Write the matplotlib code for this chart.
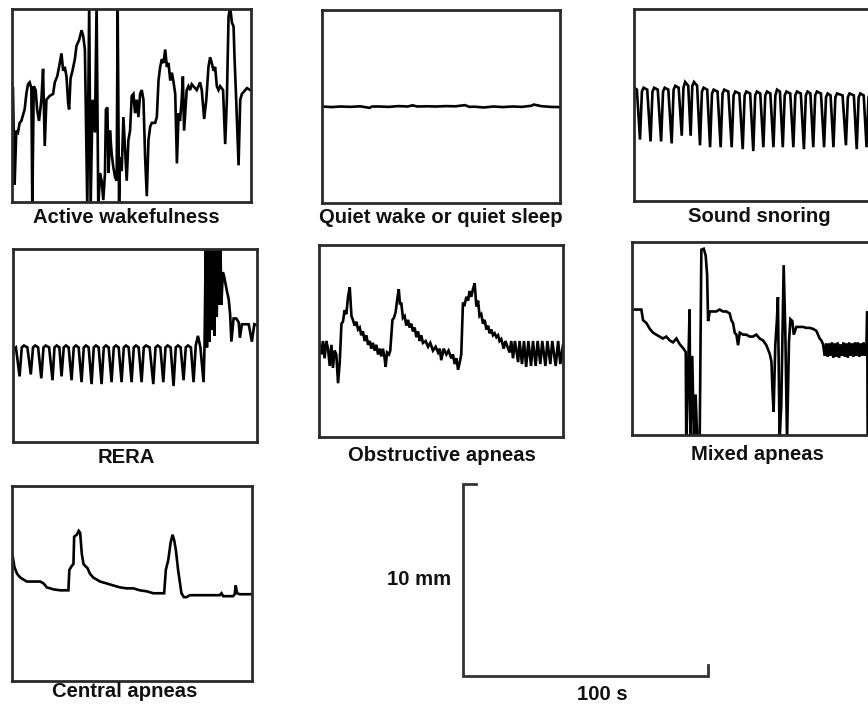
import matplotlib
matplotlib.use("Agg")
import matplotlib.pyplot as plt

W, H = 868, 706

# ---------------- data (x in s, y in mm) ----------------
titles = ["Active wakefulness", "Quiet wake or quiet sleep", "Sound snoring",
          "RERA", "Obstructive apneas", "Mixed apneas", "Central apneas"]

wake_t = [0.4, 1.1, 1.8, 2.5, 3.2, 3.9, 5.3, 6.0, 6.7, 7.4, 8.1, 8.5, 9.1, 9.9, 10.5, 11.3, 12.3, 13.0,
          13.7, 14.4, 15.8, 17.2, 17.9, 18.9, 19.7, 20.7, 21.4, 22.1, 22.8, 23.5, 23.9, 24.5, 25.3,
          26.3, 27.0, 28.1, 29.1, 29.8, 30.5, 31.5, 32.3, 32.9, 33.7, 34.7, 35.4, 36.1, 36.8, 37.5,
          38.2, 38.9, 39.3, 39.9, 40.4, 41.0, 41.7, 42.4, 43.1, 43.8, 44.2, 44.8, 45.2, 45.9, 46.6,
          47.3, 48.0, 48.7, 49.4, 50.1, 50.8, 51.5, 52.2, 52.9, 53.6, 54.3, 55.0, 55.7, 56.4, 57.1,
          57.8, 58.5, 59.9, 60.6, 61.3, 62.0, 62.7, 63.4, 64.1, 64.8, 65.5, 66.2, 66.9, 67.6, 68.3,
          69.0, 69.7, 70.3, 71.0, 71.5, 72.0, 72.6, 73.1, 73.8, 74.5, 75.2, 75.9, 77.3, 78.7, 79.4,
          80.4, 81.3, 82.2, 82.9, 83.6, 84.3, 85.0, 85.7, 86.4, 87.1, 88.3, 89.2, 89.9, 90.6, 91.3,
          92.0, 92.7, 93.1, 93.8, 94.4, 94.8, 95.5, 96.2, 96.9, 98.3, 99.7]
wake_v = [5.9, 0.9, 3.7, 3.6, 4.1, 4.2, 4.8, 5.6, 6.1, 6.2, 5.9, -0.3, 6.0, 5.8, 4.8, 4.2, 5.3, 6.9,
          2.9, 5.3, 5.5, 5.6, 6.2, 6.5, 7.0, 7.7, 6.8, 7.0, 6.5, 5.1, 4.8, 6.4, 6.8,
          7.4, 8.1, 8.4, 8.9, 8.6, 7.9, -0.3, 10.3, -0.3, 5.3, 3.6, 10.3, -0.3, 1.5, 1.1,
          0.1, 1.5, 4.8, 4.9, 1.5, 3.7, 2.5, 1.8, 1.3, 1.1, 10.3, -0.3, 2.3, 1.6, 4.4,
          2.7, 1.1, 3.2, 3.7, 5.5, 5.6, 4.6, 5.3, 4.4, 5.6, 5.8, 5.3, 2.3, 0.3, 3.2,
          3.9, 4.1, 4.1, 4.4, 6.3, 7.0, 7.4, 7.2, 7.9, 7.0, 7.2, 6.3, 6.7, 6.2, 5.6,
          2.0, 4.6, 4.2, 5.3, 6.5, 3.7, 4.8, 5.8, 6.0, 5.8, 6.1, 6.0, 5.8, 6.2, 5.8,
          4.3, 5.3, 7.0, 7.5, 7.2, 6.8, 7.0, 6.0, 5.8, 6.0, 5.8, 3.0, 5.3, 9.6, 10.1,
          9.3, 9.1, 7.5, 5.3, 3.2, 1.9, 5.3, 5.6, 5.7, 5.9, 5.8]

quiet_t = [0, 4, 8, 12, 16, 20, 21, 24, 28, 32, 36, 38, 40, 44, 48, 52, 56, 60, 62, 64, 68, 72, 76,
           80, 84, 88, 89, 92, 96, 100]
quiet_v = [5.0, 4.97, 5.0, 4.98, 5.01, 4.93, 5.0, 5.0, 4.98, 5.02, 5.0, 5.06, 5.0, 5.01, 5.0, 5.02,
           5.01, 5.07, 4.98, 4.99, 4.95, 5.0, 4.97, 5.0, 4.98, 5.04, 5.1, 5.02, 4.98, 4.97]

snore_t = [0.0, 1.2,
           2.5, 3.3, 4.0, 5.5, 6.9, 7.7, 8.4, 9.9, 11.3, 12.1, 12.8, 14.3, 15.7, 16.5, 17.2, 18.6,
           19.9, 20.6, 21.3, 22.6, 23.6, 24.3, 25.0, 26.3, 27.5, 28.3, 29.0, 30.5, 31.7, 32.5, 33.2,
           34.8, 36.1, 36.9, 37.6, 39.3, 40.7, 41.5, 42.2, 43.9, 45.3, 46.1, 46.8, 48.4, 49.7, 50.5,
           51.2, 52.6, 53.9, 54.7, 55.4, 56.8, 58.1, 58.9, 59.6, 60.8, 62.0, 62.8, 63.5, 65.1, 66.4,
           67.2, 67.9, 69.5, 70.8, 71.6, 72.3, 73.5, 74.7, 75.5, 76.2, 77.9, 79.2, 80.0, 80.7, 81.9,
           83.1, 83.9, 84.6, 86.9, 88.3, 89.1, 89.8, 91.6, 92.8, 93.6, 94.3, 95.7, 96.9, 97.7, 98.4,
           100.0]
snore_v = [5.9, 5.8,
           3.2, 5.7, 5.9, 5.8, 3.1, 5.7, 5.9, 5.8, 3.1, 5.7, 5.9, 5.8, 3.0, 5.8, 6.0, 5.9,
           3.4, 5.9, 6.2, 6.0, 3.4, 6.0, 6.2, 6.0, 2.9, 5.7, 5.9, 5.8, 2.8, 5.6, 5.8,
           5.7, 2.8, 5.6, 5.8, 5.7, 2.8, 5.5, 5.7, 5.6, 2.7, 5.5, 5.7, 5.6, 2.6, 5.5,
           5.7, 5.6, 2.8, 5.5, 5.7, 5.6, 2.8, 5.5, 5.8, 5.7, 2.8, 5.5, 5.7, 5.6, 2.8,
           5.5, 5.7, 5.6, 2.7, 5.5, 5.7, 5.6, 2.8, 5.5, 5.7, 5.6, 2.8, 5.4, 5.6, 5.5,
           2.8, 5.4, 5.6, 5.5, 2.9, 5.4, 5.6, 5.5, 2.7, 5.4, 5.6, 5.5, 2.8, 5.4, 5.6,
           5.5]

rera_t = [0.2, 1.2, 2.7, 3.6, 4.5, 5.9, 7.3, 8.2, 9.1, 10.3, 11.6, 12.5, 13.4, 14.8, 16.2, 17.0,
          17.9, 19.0, 19.9, 20.8, 21.7, 22.8, 24.0, 24.9, 25.8, 26.9, 28.1, 29.0, 29.9, 31.0, 32.2,
          33.1, 34.0, 35.1, 36.3, 37.2, 38.1, 39.2, 40.4, 41.3, 42.2, 43.3, 44.5, 45.4, 46.3, 47.4,
          48.6, 49.5, 50.4, 51.5, 52.7, 53.6, 54.5, 56.0, 57.5, 58.4, 59.3, 60.4, 61.6, 62.5, 63.4,
          64.6, 65.8, 66.7, 67.6, 68.7, 69.9, 70.8, 71.7, 72.9, 74.0, 74.9, 75.8, 76.8, 78.1,
          78.5, 79.0, 79.5, 80.0, 80.5, 81.0, 81.5, 82.0, 82.5, 83.0, 83.5, 84.0, 84.5, 85.0,
          85.4, 86.0, 86.5, 87.7, 88.4, 89.0, 89.5, 90.4, 91.5, 92.5, 93.0, 93.8, 94.6, 96.6,
          97.9, 98.9, 100.0]
rera_v = [4.8, 4.9, 3.4, 4.9, 5.0, 4.9, 3.5, 4.9, 5.0, 4.9, 3.3, 4.9, 5.0, 4.9, 3.2, 4.9,
          5.0, 4.9, 3.4, 4.9, 5.0, 4.9, 3.2, 4.9, 5.0, 4.9, 3.1, 4.9, 5.0, 4.9, 3.0,
          4.9, 5.0, 4.9, 3.0, 4.9, 5.0, 4.9, 3.1, 4.9, 5.0, 4.9, 3.1, 4.9, 5.0, 4.9,
          3.1, 4.9, 5.0, 4.9, 3.1, 4.9, 5.0, 4.9, 3.0, 4.9, 5.0, 4.9, 3.1, 4.9, 5.0,
          4.9, 2.9, 4.9, 5.0, 4.9, 3.2, 4.9, 5.0, 4.9, 3.1, 5.0, 5.5, 4.9, 3.1,
          5.0, 10.3, 4.9, 10.3, 5.2, 10.3, 5.8, 10.3, 5.5, 10.3, 6.5, 10.3, 7.1, 10.3,
          7.1, 8.8, 8.6, 7.8, 7.4, 6.6, 5.2, 6.4, 6.4, 6.2, 5.4, 6.1, 6.1, 6.1,
          5.2, 6.1, 6.05]

obst_t = [0.3, 1.0, 1.6, 2.3, 3.0, 3.7, 4.4, 5.1, 5.7, 6.4, 7.1, 7.8, 8.5, 9.2, 9.8, 10.5, 11.2,
          11.9, 12.6, 13.3, 13.9, 14.6, 15.3, 16.0, 16.7, 17.3, 18.0, 18.7, 19.4, 20.1, 20.8, 21.4,
          22.1, 22.8, 23.5, 24.2, 24.9, 25.5, 26.2, 26.9, 27.3, 27.9, 28.7, 29.2, 30.1, 30.7, 31.4,
          32.1, 32.7, 33.2, 33.7, 34.4, 35.1, 35.8, 36.5, 37.2, 37.8, 38.5, 39.2, 39.9, 40.6, 41.3,
          41.9, 42.6, 43.7, 44.7, 45.6, 46.7, 47.8, 48.8, 49.5, 50.1, 51.1, 52.2, 53.1, 54.2, 54.9,
          55.6, 56.3, 57.0, 57.7, 58.3, 59.0, 59.7, 60.4, 61.1, 61.7, 62.4, 63.1, 63.8, 64.5, 65.2,
          65.8, 66.5, 67.2, 67.9, 68.6, 69.3, 69.9, 70.6, 71.3, 72.0, 72.7, 73.4, 74.0, 74.7, 75.7,
          76.4, 78.1, 78.8, 79.5, 80.3, 81.6, 82.2, 83.2, 84.0, 84.9, 85.8, 86.9, 87.7, 88.8, 89.6,
          90.7, 91.5, 92.8, 93.6, 94.8, 95.6, 97.0, 98.0, 98.9, 100.0]
obst_v = [4.8, 4.3, 5.0, 4.1, 5.0, 4.6, 3.7, 4.8, 3.6, 4.5, 4.3, 2.8, 3.9, 5.9, 6.0, 6.6, 6.4,
          7.3, 7.8, 6.3, 6.1, 5.8, 6.0, 5.6, 5.7, 5.3, 5.5, 5.0, 5.3, 4.8, 5.0, 4.6,
          4.9, 4.5, 4.8, 4.3, 4.6, 4.2, 4.6, 4.1, 3.65, 4.4, 4.3, 4.5, 6.1, 6.2, 6.5,
          7.2, 7.7, 6.9, 7.0, 6.2, 6.3, 5.8, 6.1, 5.7, 5.9, 5.5, 5.7, 5.2, 5.5, 5.0,
          5.3, 4.9, 5.0, 4.7, 4.9, 4.5, 4.7, 4.4, 4.6, 4.0, 4.6, 4.3, 4.5, 4.1, 4.3,
          3.8, 4.1, 3.5, 3.9, 4.3, 7.0, 6.9, 7.3, 7.1, 7.6, 7.3, 7.7, 8.0, 6.8, 7.1,
          6.3, 6.4, 5.9, 6.1, 5.6, 5.8, 5.4, 5.6, 5.3, 5.4, 5.2, 5.3, 5.0, 5.1, 4.6,
          5.0, 4.4, 5.0, 4.1, 5.0, 3.9, 5.0, 3.8, 5.0, 3.65, 5.0, 3.7, 5.0, 3.7, 5.0,
          3.8, 5.0, 3.7, 5.0, 3.8, 5.0, 3.7, 5.0, 3.8, 4.8]

mixed_t = [0.0, 3.9, 4.6, 6.0, 7.4, 8.8, 10.1, 11.5, 12.9, 14.3, 15.7, 17.1, 18.5, 19.9, 21.3,
           22.4, 22.6, 23.3, 24.0, 24.3, 25.1, 25.8, 26.5, 27.2, 28.2, 28.9, 29.9, 30.7, 31.3,
           31.7, 32.4, 33.8, 35.1, 36.5, 37.9, 39.3, 40.7, 41.4, 42.1, 42.8, 43.5, 44.2, 44.9,
           46.3, 47.6, 49.0, 50.4, 51.8, 53.2, 54.6, 56.0, 57.4, 58.1, 58.5, 59.0, 59.7, 60.4,
           60.8, 61.5, 62.2, 63.2, 63.9, 64.6, 65.4, 66.0, 66.8, 67.4, 68.5, 69.9, 71.3, 72.6,
           74.0, 75.4, 76.8, 77.5, 78.2, 78.9, 79.6, 80.3, 80.9, 81.5, 82.1, 82.7, 83.3, 83.9,
           84.5, 85.1, 85.7, 86.3, 86.9, 87.5, 88.1, 88.7, 89.3, 89.9, 90.5, 91.1, 91.7, 92.3,
           92.9, 93.5, 94.1, 94.7, 95.3, 95.9, 96.5, 97.1, 97.7, 98.0, 98.2, 99.0]
mixed_v = [6.5, 6.5, 5.95, 5.8, 5.5, 5.3, 5.2, 5.1, 5.0, 5.1, 4.9, 4.8, 5.0, 4.7, 4.5,
           4.3, -0.3, 2.8, 6.5, -0.3, 4.1, -0.3, 2.1, -0.3, -0.3, 9.6, 9.65, 9.3, 8.3,
           5.9, 6.4, 6.4, 6.4, 6.5, 6.4, 6.4, 6.3, 5.95, 5.8, 5.3, 5.2, 4.65, 5.3,
           5.2, 5.2, 5.1, 5.1, 5.2, 5.0, 4.9, 4.65, 4.2, 3.8, 2.4, 1.2, 4.65, 6.0,
           7.15, -0.3, 1.55, 8.8, 5.2, -0.3, 4.8, 6.0, 5.9, 5.2, 5.6, 5.6, 5.6, 5.55,
           5.55, 5.5, 5.4, 5.2, 5.0, 4.9, 4.7, 4.1, 4.75, 4.05, 4.75, 4.1, 4.8, 4.0,
           4.75, 4.05, 4.8, 4.0, 4.7, 4.1, 4.8, 4.05, 4.75, 4.0, 4.8, 4.1, 4.75, 4.05,
           4.8, 4.1, 4.8, 4.05, 4.75, 4.1, 4.8, 4.1, 4.7, 6.4, -0.3, -0.3]

central_t = [0.3, 1.0, 2.1, 3.5, 4.8, 6.2, 7.6, 9.0, 11.8, 13.2, 14.5, 17.3, 20.1, 22.9, 23.5,
             23.9, 24.9, 25.6, 25.9, 27.0, 27.8, 28.4, 29.1, 29.8, 30.5, 31.4, 32.5, 33.9, 36.7,
             39.5, 42.2, 45.0, 47.8, 50.6, 53.3, 56.1, 58.9, 61.6, 63.4, 64.1, 65.1, 66.1, 66.9,
             67.6, 68.3, 69.2, 70.6, 71.6, 72.7, 74.1, 78.3, 82.4, 86.6, 87.3, 88.0, 92.1, 92.8,
             93.2, 93.8, 94.9, 97.6, 100.0]
central_v = [6.4, 5.85, 5.5, 5.3, 5.2, 5.1, 5.1, 5.1, 5.1, 5.0, 4.8, 4.7, 4.65, 4.65, 4.65,
             5.7, 5.9, 6.0, 7.4, 7.5, 7.7, 7.6, 6.5, 6.0, 5.9, 5.8, 5.5, 5.3, 5.1,
             5.0, 4.9, 4.8, 4.75, 4.75, 4.65, 4.6, 4.5, 4.5, 4.5, 5.7, 6.2, 7.1, 7.5,
             7.2, 6.7, 5.7, 4.5, 4.3, 4.3, 4.4, 4.4, 4.4, 4.4, 4.5, 4.35, 4.35, 4.45,
             4.9, 4.5, 4.45, 4.45, 4.45]

scale_s = 100   # horizontal scale bar length, s
scale_mm = 10   # vertical scale bar length, mm

series = [(wake_t, wake_v), (quiet_t, quiet_v), (snore_t, snore_v), (rera_t, rera_v),
          (obst_t, obst_v), (mixed_t, mixed_v), (central_t, central_v)]

# ---------------- layout (pixel boxes: left, top, right, bottom) ----------------
boxes = [(12, 9, 251, 202), (322, 10, 560, 203), (634, 9, 874, 201),
         (13, 249, 257, 442), (319, 245, 563, 437), (632, 242, 872, 435),
         (12, 486, 252, 681)]
label_pos = [(126, 223), (441, 223), (759, 222), (126, 463), (442, 461), (757, 460), (125, 697)]

fig = plt.figure(figsize=(W / 100, H / 100), dpi=100)
fig.patch.set_facecolor("white")


def px_axes(l, t, r, b):
    return fig.add_axes([l / W, 1 - b / H, (r - l) / W, (b - t) / H])


font = dict(family=["Liberation Sans", "DejaVu Sans"], fontweight="bold", fontsize=14.6,
            color="#111111")

for (l, t, r, b), (xs, ys), title, (lx, ly) in zip(boxes, series, titles, label_pos):
    ax = px_axes(l, t, r, b)
    ax.plot(xs, ys, color="black", lw=1.9, solid_joinstyle="miter")
    ax.set_xlim(0, 100)
    ax.set_ylim(0, 10)
    ax.set_xticks([])
    ax.set_yticks([])
    for sp in ax.spines.values():
        sp.set_linewidth(2.0)
        sp.set_color("#2a2a2a")
    fig.text(lx / W, 1 - ly / H, title, ha="center", va="baseline", **font)

# scale bar
sax = px_axes(463, 484, 708, 676)
sax.set_xlim(0, scale_s)
sax.set_ylim(0, scale_mm)
sax.axis("off")
sax.plot([scale_s * 0.053, 0, 0, scale_s, scale_s],
         [scale_mm, scale_mm, 0, 0, scale_mm * 0.057],
         color="#333333", lw=2.0, clip_on=False, solid_joinstyle="miter")
fig.text(451 / W, 1 - 585 / H, "%d mm" % scale_mm, ha="right", va="baseline", **font)
fig.text(602 / W, 1 - 700 / H, "%d s" % scale_s, ha="center", va="baseline", **font)

fig.savefig("out.png", dpi=100, facecolor="white")
